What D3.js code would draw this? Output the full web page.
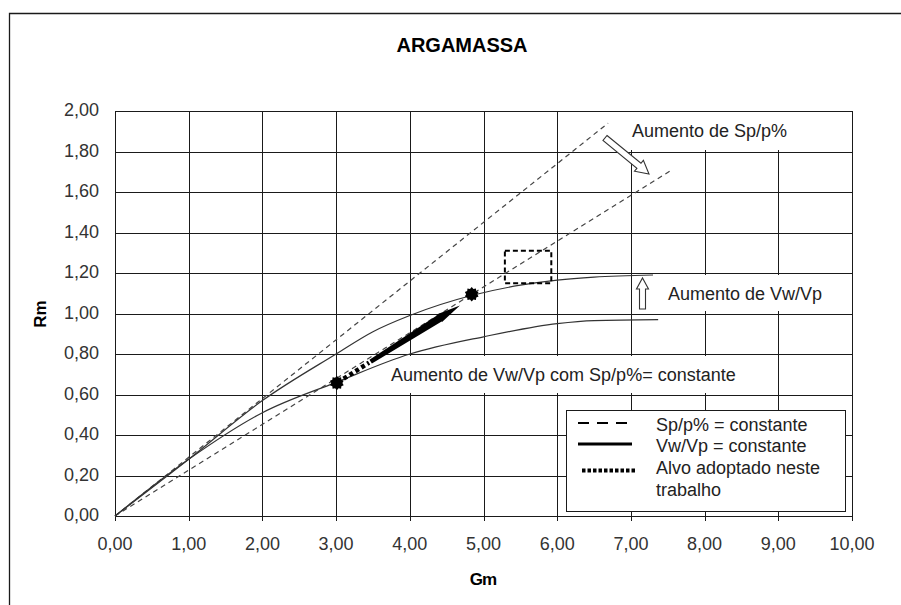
<!DOCTYPE html>
<html><head><meta charset="utf-8">
<script src="https://cdn.jsdelivr.net/npm/d3@7"></script>
<style>
html,body{margin:0;padding:0;background:#fff;}
svg{display:block;font-family:"Liberation Sans",Arial,sans-serif;}
</style></head>
<body>
<svg id="c" width="901" height="605"></svg>
<script>
// ---- data ----
const xTicks = [0,1,2,3,4,5,6,7,8,9,10];
const yTicks = [0,0.2,0.4,0.6,0.8,1.0,1.2,1.4,1.6,1.8,2.0];
const spHighGm = [0, 6.69];
const spHighRm = [0, 1.94];
const spLowGm = [0, 7.56];
const spLowRm = [0, 1.71];
const vwHighGm = [0, 1, 2, 3, 3.5, 4, 4.85, 5.5, 6, 6.5, 7.3];
const vwHighRm = [0, 0.28, 0.57, 0.80, 0.91, 0.99, 1.09, 1.14, 1.165, 1.18, 1.19];
const vwLowGm = [0, 1, 2, 3, 4, 5, 6, 6.5, 7.37];
const vwLowRm = [0, 0.28, 0.51, 0.66, 0.80, 0.885, 0.95, 0.965, 0.97];
const targetGm = [3.01, 4.84];
const targetRm = [0.657, 1.095];
const arrowGm = [3.01, 4.68];
const arrowRm = [0.657, 1.04];
const boxGm = [5.29, 5.92];
const boxRm = [1.15, 1.31];
const title = "ARGAMASSA";
const xLabel = "Gm", yLabel = "Rm";
const legendLabels = ["Sp/p% = constante", "Vw/Vp = constante", "Alvo adoptado neste", "trabalho"];

// ---- layout ----
const svg = d3.select("#c");
const L = 115, R = 852, T = 111, B = 516;
const x = d3.scaleLinear().domain([0,10]).range([L,R]);
const y = d3.scaleLinear().domain([0,2]).range([B,T]);
const fmt = v => d3.format(".2f")(v).replace(".", ",");
const ink = "#1a1a1a";

// outer frame
svg.append("path").attr("d","M9.5,605 V13.5 H901").attr("fill","none").attr("stroke",ink).attr("stroke-width",1.3);

// title
svg.append("text").attr("x",462).attr("y",52).attr("text-anchor","middle")
  .attr("font-size",20).attr("font-weight","bold").attr("fill","#000").text(title);

// grid
const g = svg.append("g");
xTicks.forEach(t => {
  const px = Math.round(x(t)) + 0.5;
  g.append("line").attr("x1",px).attr("x2",px).attr("y1",T).attr("y2",B+5).attr("stroke",ink).attr("stroke-width",1);
});
yTicks.forEach(t => {
  const py = Math.round(y(t)) + 0.5;
  g.append("line").attr("x1",L).attr("x2",R).attr("y1",py).attr("y2",py).attr("stroke",ink).attr("stroke-width",1);
});
svg.append("rect").attr("x",L+0.5).attr("y",Math.round(T)+0.5).attr("width",R-L).attr("height",B-T)
  .attr("fill","none").attr("stroke",ink).attr("stroke-width",1);

// tick labels
xTicks.forEach(t => {
  svg.append("text").attr("x",x(t)).attr("y",550).attr("text-anchor","middle").attr("font-size",18).attr("fill","#333").text(fmt(t));
});
yTicks.forEach(t => {
  svg.append("text").attr("x",99).attr("y",y(t)+5).attr("text-anchor","end").attr("font-size",18).attr("fill","#333").text(fmt(t));
});
svg.append("text").attr("x",483).attr("y",585).attr("text-anchor","middle").attr("font-size",17).attr("font-weight","bold").attr("letter-spacing",-1).text(xLabel);
svg.append("text").attr("transform","translate(46,314) rotate(-90)").attr("text-anchor","middle").attr("font-size",17).attr("font-weight","bold").text(yLabel);

// white label backgrounds (hide grid)
const wb = (x0,y0,x1,y1) => svg.append("rect").attr("x",x0).attr("y",y0).attr("width",x1-x0).attr("height",y1-y0).attr("fill","#fff");
wb(620,112,851,150);
wb(660,275,851,311);
wb(388,356,748,393);

// lines
const line = d3.line().x(d=>x(d[0])).y(d=>y(d[1])).curve(d3.curveMonotoneX);
const zip = (a,b) => a.map((v,i)=>[v,b[i]]);
[[spHighGm,spHighRm],[spLowGm,spLowRm]].forEach(([a,b]) => {
  svg.append("path").attr("d",line(zip(a,b))).attr("fill","none").attr("stroke","#444").attr("stroke-width",1.2).attr("stroke-dasharray","5,4");
});
[[vwHighGm,vwHighRm],[vwLowGm,vwLowRm]].forEach(([a,b]) => {
  svg.append("path").attr("d",line(zip(a,b))).attr("fill","none").attr("stroke","#333").attr("stroke-width",1.2);
});

// dashed target box
svg.append("rect").attr("x",x(boxGm[0])).attr("y",y(boxRm[1])).attr("width",x(boxGm[1])-x(boxGm[0])).attr("height",y(boxRm[0])-y(boxRm[1]))
  .attr("fill","none").attr("stroke","#000").attr("stroke-width",2).attr("stroke-dasharray","5,3");

// target arrow
{
  const x0 = x(arrowGm[0]), y0 = y(arrowRm[0]), x1 = x(arrowGm[1]), y1 = y(arrowRm[1]);
  const dx = x1-x0, dy = y1-y0, len = Math.hypot(dx,dy), ux = dx/len, uy = dy/len, nx = -uy, ny = ux;
  const P = (t,w) => [x0+ux*t+nx*w, y0+uy*t+ny*w];
  const sDot = 8, eDot = 38;
  svg.append("line").attr("x1",P(sDot,0)[0]).attr("y1",P(sDot,0)[1]).attr("x2",P(eDot,0)[0]).attr("y2",P(eDot,0)[1])
    .attr("stroke","#000").attr("stroke-width",4.5).attr("stroke-dasharray","4,3");
  const pts = [P(eDot+2,-2.3), P(len-24,-3.8), P(len-24,-4.6), P(len,0), P(len-24,4.6), P(len-24,3.8), P(eDot+2,2.3)];
  svg.append("polygon").attr("points",pts.map(p=>p.join(",")).join(" ")).attr("fill","#000");
}

// star markers
const starPts = [];
for (let i=0;i<20;i++){ const a = i*Math.PI/10; const r = i%2 ? 5.6 : 7.2; starPts.push([a,r]); }
const star = d3.lineRadial().angle(d=>d[0]).radius(d=>d[1]).curve(d3.curveLinearClosed);
targetGm.forEach((gm,i) => {
  svg.append("path").attr("d",star(starPts)).attr("transform",`translate(${x(gm)},${y(targetRm[i])})`).attr("fill","#000");
});

// hollow arrows
function hollowArrow(xa,ya,xb,yb,sw,hw,hl){
  const dx=xb-xa, dy=yb-ya, len=Math.hypot(dx,dy), ux=dx/len, uy=dy/len, nx=-uy, ny=ux;
  const P=(t,w)=>[xa+ux*t+nx*w, ya+uy*t+ny*w];
  const pts=[P(0,-sw),P(len-hl,-sw),P(len-hl,-hw),P(len,0),P(len-hl,hw),P(len-hl,sw),P(0,sw)];
  svg.append("polygon").attr("points",pts.map(p=>p.join(",")).join(" ")).attr("fill","#fff").attr("stroke","#333").attr("stroke-width",1.1);
}
hollowArrow(605,138,649,174,3.2,7,13);
hollowArrow(642.5,309,642.5,278,3,6,11);

// annotations
svg.append("text").attr("x",632).attr("y",137).attr("font-size",18).attr("fill","#222").text("Aumento de Sp/p%");
svg.append("text").attr("x",668).attr("y",300).attr("font-size",18).attr("fill","#222").text("Aumento de Vw/Vp");
svg.append("text").attr("x",391).attr("y",381).attr("font-size",18).attr("fill","#222").text("Aumento de Vw/Vp com Sp/p%= constante");

// legend
svg.append("rect").attr("x",566.5).attr("y",410.5).attr("width",279).attr("height",101).attr("fill","#fff").attr("stroke",ink).attr("stroke-width",1);
svg.append("line").attr("x1",578).attr("x2",628).attr("y1",423).attr("y2",423).attr("stroke","#000").attr("stroke-width",2).attr("stroke-dasharray","11,8");
svg.append("line").attr("x1",578).attr("x2",632).attr("y1",444).attr("y2",444).attr("stroke","#000").attr("stroke-width",3);
svg.append("line").attr("x1",582).attr("x2",637).attr("y1",470.5).attr("y2",470.5).attr("stroke","#000").attr("stroke-width",4).attr("stroke-dasharray","3.5,2");
const ly = [431, 452, 474, 496];
legendLabels.forEach((t,i)=>{
  svg.append("text").attr("x",656).attr("y",ly[i]).attr("font-size",18).attr("fill","#222").text(t);
});
</script>
</body></html>
